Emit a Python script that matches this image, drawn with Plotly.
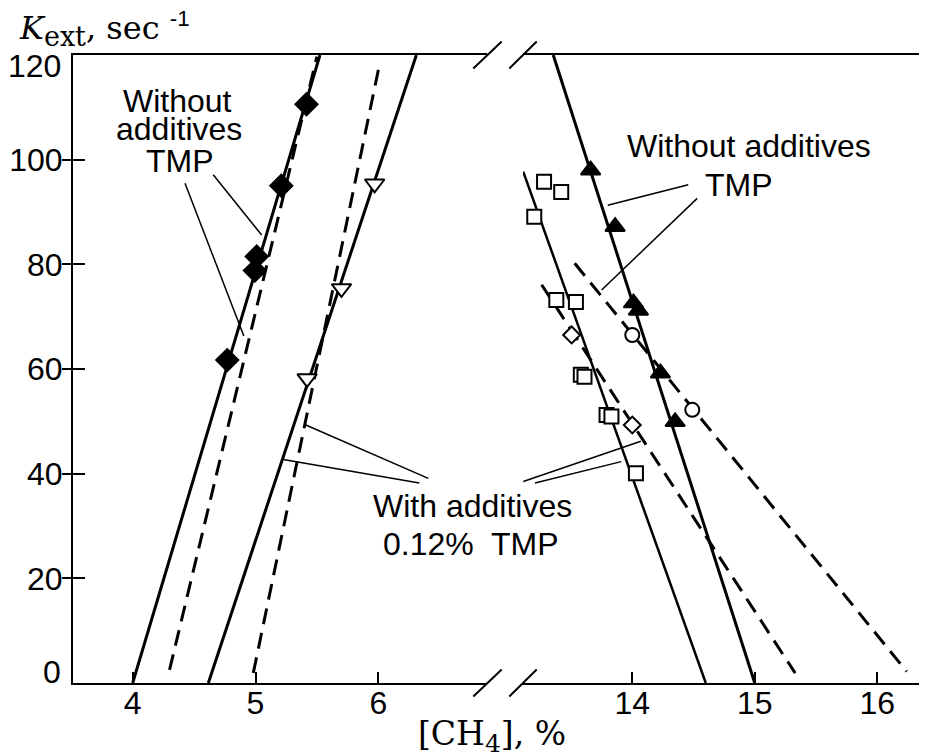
import plotly.graph_objects as go

# The page body adds an 8 px margin, so the figure is sized/offset to land
# its plot area at page pixels x 73..927, y 55..683.
OFF = 8
W, H = 927 - OFF, 755 - OFF
ML, MR, MT, MB = 73 - OFF, 0, 55 - OFF, 755 - 683
PW, PH = 927 - 73, 683 - 55

# ---------------- data ----------------
# left group (lean side), filled diamonds: without additives
dia_x = [4.77, 4.995, 5.01, 5.21, 5.415]
dia_y = [61.7, 78.8, 81.5, 95.0, 110.6]
# open down-triangles: with 0.12% TMP
tri_dn_x = [5.42, 5.70, 5.97]
tri_dn_y = [58.2, 75.4, 95.4]

# left fitted lines
l_solid1_x = [4.00, 5.525]
l_solid1_y = [0, 120]
l_dash1_x = [4.30, 5.50]
l_dash1_y = [2.5, 119.7]
l_solid2_x = [4.616, 6.31]
l_solid2_y = [0, 120]
l_dash2_x = [4.982, 6.014]
l_dash2_y = [1.9, 118.7]

# right group (rich side)
tri_up_x = [13.66, 13.86, 14.01, 14.05, 14.23, 14.35]
tri_up_y = [98.0, 87.2, 72.6, 71.2, 59.2, 49.9]
circ_x = [14.00, 14.49]
circ_y = [66.5, 52.2]
sq_x = [13.28, 13.42, 13.20, 13.38, 13.54, 13.58, 13.61, 13.79, 13.83, 14.03]
sq_y = [95.8, 93.8, 89.1, 73.2, 72.8, 58.9, 58.5, 51.2, 50.9, 40.1]
odia_x = [13.505, 14.00]
odia_y = [66.5, 49.3]

r_solidA_x = [13.355, 15.00]
r_solidA_y = [120, 0]
r_solidB_x = [13.11, 14.60]
r_solidB_y = [97.7, 0]
r_dashC_x = [13.26, 15.33]
r_dashC_y = [76.1, 1.9]
r_dashD_x = [13.53, 16.24]
r_dashD_y = [80.2, 2.2]

# leader lines
lead_l1_x = [4.656, 5.05];  lead_l1_y = [97.1, 85.6]
lead_l2_x = [4.426, 4.905]; lead_l2_y = [95.5, 66.3]
lead_r1_x = [14.457, 13.80]; lead_r1_y = [95.2, 91.3]
lead_r2_x = [14.53, 13.75];  lead_r2_y = [92.6, 75.1]
lead_wl1_x = [6.407, 5.41];  lead_wl1_y = [39.1, 49.3]
lead_wl2_x = [6.334, 5.226]; lead_wl2_y = [38.2, 42.7]
lead_wr1_x = [13.11, 14.07]; lead_wr1_y = [38.5, 46.2]
lead_wr2_x = [13.206, 13.91]; lead_wr2_y = [38.2, 42.3]

y_inner_ticks = [20, 40, 60, 80, 100]
y_end_labels = ["0", "120"]
x_left_ticks = [4, 5, 6]
x_right_ticks = [14, 15, 16]

# ---------------- helpers (page pixels -> paper) ----------------
def px(xp):
    return (xp - 73) / PW

def py(yp):
    return (683 - yp) / PH

SANS = "Liberation Sans, Arial, sans-serif"
SERIF = "DejaVu Serif, serif"

fig = go.Figure()

def line(x, y, xa, width=3, dash="solid"):
    fig.add_trace(go.Scatter(x=x, y=y, mode="lines", xaxis=xa, yaxis="y",
                             line=dict(color="black", width=width, dash=dash),
                             hoverinfo="skip", showlegend=False))

def marks(x, y, xa, symbol, size, fill):
    fig.add_trace(go.Scatter(x=x, y=y, mode="markers", xaxis=xa, yaxis="y",
                             marker=dict(symbol=symbol, size=size, color=fill,
                                         line=dict(color="black", width=2)),
                             hoverinfo="skip", showlegend=False))

DASH = "16px,9px"
# left lines
line(l_solid1_x, l_solid1_y, "x", 3)
line(l_dash1_x, l_dash1_y, "x", 3, DASH)
line(l_solid2_x, l_solid2_y, "x", 3)
line(l_dash2_x, l_dash2_y, "x", 3, DASH)
# right lines
line(r_solidA_x, r_solidA_y, "x2", 3)
line(r_solidB_x, r_solidB_y, "x2", 2.5)
line(r_dashC_x, r_dashC_y, "x2", 3, DASH)
line(r_dashD_x, r_dashD_y, "x2", 3, DASH)
# leaders
for lx, ly, xa in [(lead_l1_x, lead_l1_y, "x"), (lead_l2_x, lead_l2_y, "x"),
                   (lead_wl1_x, lead_wl1_y, "x"), (lead_wl2_x, lead_wl2_y, "x"),
                   (lead_r1_x, lead_r1_y, "x2"), (lead_r2_x, lead_r2_y, "x2"),
                   (lead_wr1_x, lead_wr1_y, "x2"), (lead_wr2_x, lead_wr2_y, "x2")]:
    line(lx, ly, xa, 1.5)

# markers
marks(dia_x, dia_y, "x", "diamond", 17, "black")
marks(tri_dn_x, tri_dn_y, "x", "triangle-down", 17, "white")
marks(sq_x, sq_y, "x2", "square", 14, "white")
marks(odia_x, odia_y, "x2", "diamond", 13, "white")
marks(circ_x, circ_y, "x2", "circle", 14, "white")
marks(tri_up_x, tri_up_y, "x2", "triangle-up", 17, "black")

# empty traces so the tick-only overlay axes are drawn
fig.add_trace(go.Scatter(x=[], y=[], xaxis="x", yaxis="y2", showlegend=False, hoverinfo="skip"))
fig.add_trace(go.Scatter(x=[], y=[], xaxis="x", yaxis="y3", showlegend=False, hoverinfo="skip"))

# ---------------- annotations ----------------
ann = []
def text(t, xpix, ypix, size=32, family=SANS, xanchor="center"):
    ann.append(dict(text=t, x=px(xpix), y=py(ypix), xref="paper", yref="paper",
                    xanchor=xanchor, yanchor="middle", showarrow=False,
                    font=dict(family=family, size=size, color="black")))

text("Without", 177, 101)
text("additives", 179, 129)
text("TMP", 180, 161)
text("Without additives", 749, 146)
text("TMP", 739, 185)
text("With additives", 472, 506)
text("0.12%  TMP", 470, 544)
text("<i>K</i><sub><span style='font-size:27px'>ext</span></sub>, sec "
     "<span style='font-family:Liberation Sans'><sup>-1</sup></span>",
     17, 29, size=32, family=SERIF, xanchor="left")
text("[CH<sub><span style='font-size:25px'>4</span></sub>], %", 492, 736, size=33, family=SERIF)
# end labels of the y axis sit inside the axis span, as in the original
text(y_end_labels[1], 63, 66, xanchor="right")
text(y_end_labels[0], 63, 672, xanchor="right")

# axis break marks
shapes = []
for (x0, x1) in [(473.3, 501.7), (509.3, 536.7)]:
    for yc in [55, 683]:
        shapes.append(dict(type="line", xref="paper", yref="paper",
                           x0=px(x0), x1=px(x1), y0=py(yc + 13.5), y1=py(yc - 13.5),
                           line=dict(color="black", width=2)))

xcommon = dict(ticks="inside", ticklen=11, tickwidth=2, tickcolor="black",
               showline=True, linewidth=2, linecolor="black", mirror=True,
               showgrid=False, zeroline=False, anchor="y",
               ticklabelstandoff=-9,
               tickfont=dict(family=SANS, size=32, color="black"),
               automargin=False, fixedrange=True)

fig.update_layout(
    width=W, height=H,
    margin=dict(l=ML, r=MR, t=MT, b=MB, autoexpand=False),
    paper_bgcolor="white", plot_bgcolor="white",
    showlegend=False,
    xaxis=dict(domain=[0, px(487)], range=[3.514, 6.885], tickvals=x_left_ticks, **xcommon),
    xaxis2=dict(domain=[px(523), 1], range=[13.108, 16.406], tickvals=x_right_ticks, **xcommon),
    yaxis=dict(range=[0, 120], tickvals=y_inner_ticks, ticks="", showline=True, linewidth=2,
               linecolor="black", showgrid=False, zeroline=False, anchor="x",
               ticklabelstandoff=2,
               tickfont=dict(family=SANS, size=32, color="black"), automargin=False,
               fixedrange=True),
    yaxis2=dict(range=[0, 120], overlaying="y", anchor="x", side="left", tickvals=y_inner_ticks,
                ticks="outside", ticklen=10, tickwidth=2, tickcolor="black",
                showticklabels=False, showline=False, showgrid=False, zeroline=False,
                fixedrange=True),
    yaxis3=dict(range=[0, 120], overlaying="y", anchor="x", side="left", tickvals=y_inner_ticks,
                ticks="inside", ticklen=12, tickwidth=2, tickcolor="black",
                showticklabels=False, showline=False, showgrid=False, zeroline=False,
                fixedrange=True),
    annotations=ann,
    shapes=shapes,
)

fig.write_html("out.html")
